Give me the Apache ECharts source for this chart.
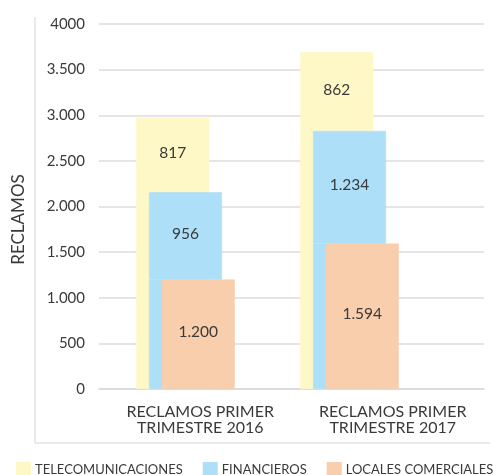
<!DOCTYPE html>
<html>
<head>
<meta charset="utf-8">
<script src="https://cdn.jsdelivr.net/npm/echarts@6/dist/echarts.min.js"></script>
<style>html,body{margin:0;padding:0;background:#fff;}#c{width:493px;height:475px;}</style>
</head>
<body>
<div id="c"></div>
<script>
const categories = ['RECLAMOS PRIMER\nTRIMESTRE 2016', 'RECLAMOS PRIMER\nTRIMESTRE 2017'];
const seriesNames = ['TELECOMUNICACIONES', 'FINANCIEROS', 'LOCALES COMERCIALES'];
const telecom = [817, 862];
const financieros = [956, 1234];
const locales = [1200, 1594];
const yTicks = [0, 500, 1000, 1500, 2000, 2500, 3000, 3500, 4000];

const colors = ['#FEF8C6', '#ADE0F8', '#F9CEAC'];
const txt = '#3a3a3a';
const font = 'Lato, "Open Sans", sans-serif';

function fmt(v) {
  return String(v).replace(/\B(?=(\d{3})+(?!\d))/g, '.');
}

const finBase = locales.slice();
const telBase = locales.map((v, i) => v + financieros[i]);

const labelCfg = {
  show: true, position: 'inside', color: txt, fontSize: 15.5, fontFamily: font,
  offset: [0, -2],
  formatter: p => fmt(p.value)
};

function bar(name, stack, data, color, withLabel) {
  return {
    type: 'bar', name, stack, data, xAxisIndex: 1, yAxisIndex: 1,
    barWidth: 73, barGap: '-82.5%',
    itemStyle: { color, borderColor: color, borderWidth: 0.6 },
    label: withLabel ? labelCfg : { show: false },
    emphasis: { disabled: true },
    animation: false
  };
}

const chart = echarts.init(document.getElementById('c'), null, { renderer: 'canvas' });
chart.setOption({
  animation: false,
  textStyle: { fontFamily: font },
  grid: [
    { left: 99, right: 9, top: 24, bottom: 86 },
    { left: 103.5, right: 61.5, top: 24, bottom: 86 },
    { left: 104, right: 4, top: 24, bottom: 86 }
  ],
  xAxis: [
    {
      type: 'category', gridIndex: 0, data: categories,
      axisLine: { show: true, lineStyle: { color: '#d9d9d9', width: 1.5 } },
      axisTick: { show: false },
      axisLabel: { show: false }
    },
    {
      type: 'category', gridIndex: 1, data: categories, show: false
    },
    {
      type: 'category', gridIndex: 2, data: categories,
      axisLine: { show: false }, axisTick: { show: false },
      axisLabel: { color: txt, fontSize: 16, lineHeight: 16, margin: 15, fontFamily: font }
    }
  ],
  yAxis: [
    {
      type: 'value', gridIndex: 0, min: 0, max: 4000, interval: 500,
      name: 'RECLAMOS', nameLocation: 'middle', nameGap: 72, nameRotate: 90,
      nameTextStyle: { color: txt, fontSize: 17, fontFamily: font, padding: [0, 26, 0, 0] },
      axisLine: { show: false }, axisTick: { show: false },
      splitLine: { lineStyle: { color: '#dcdcdc', width: 1.5 } },
      axisLabel: {
        color: txt, fontSize: 15, margin: 14, fontFamily: font,
        formatter: v => (v === yTicks[yTicks.length - 1] ? String(v) : fmt(v))
      }
    },
    {
      type: 'value', gridIndex: 1, min: 0, max: 4000, interval: 500, show: false
    },
    {
      type: 'value', gridIndex: 2, min: 0, max: 4000, interval: 500, show: false
    }
  ],
  legend: {
    data: seriesNames, left: 11, top: 457, width: 900, icon: 'rect',
    itemWidth: 13, itemHeight: 14, itemGap: 20,
    textStyle: { color: txt, fontSize: 13, fontFamily: font }
  },
  graphic: [
    { type: 'line', shape: { x1: 35, y1: 17, x2: 35, y2: 443 }, style: { stroke: '#e3e3e3', lineWidth: 1.5 }, silent: true },
    { type: 'line', shape: { x1: 35, y1: 443, x2: 490, y2: 443 }, style: { stroke: '#e3e3e3', lineWidth: 1.5 }, silent: true }
  ],
  series: [
    bar(seriesNames[0], 'tel', telBase, colors[0], false),
    bar(seriesNames[0], 'tel', telecom, colors[0], true),
    bar(seriesNames[1], 'fin', finBase, colors[1], false),
    bar(seriesNames[1], 'fin', financieros, colors[1], true),
    bar(seriesNames[2], 'loc', locales, colors[2], true)
  ]
});
</script>
</body>
</html>
